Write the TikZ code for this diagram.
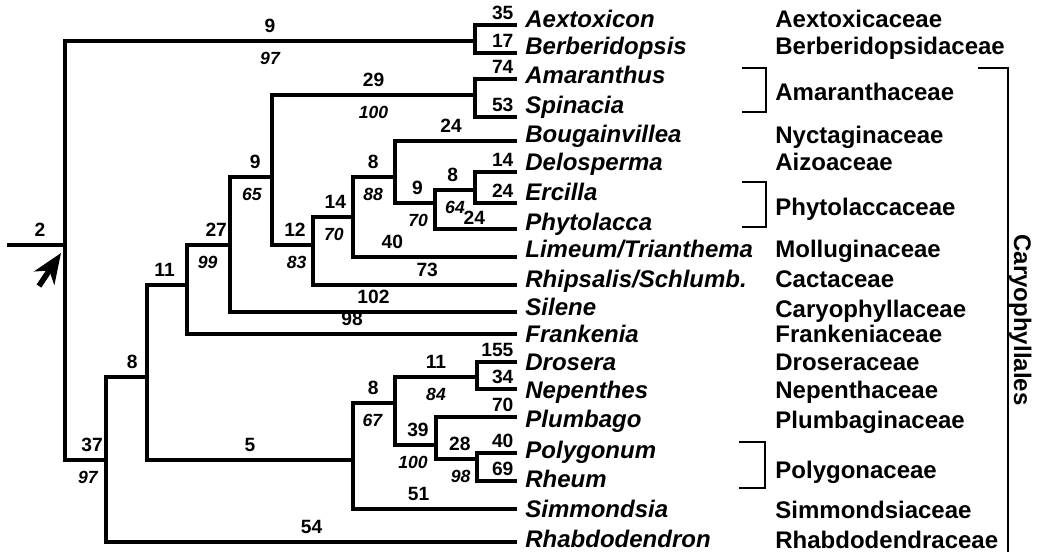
\documentclass[tikz,border=0pt]{standalone}
\usepackage{fontspec}
\setmainfont{Liberation Sans}
\usetikzlibrary{arrows.meta}
\tikzset{
  branch/.style={line width=1.6pt},
  groupline/.style={line width=1.2pt},
  pointer/.style={-{Stealth[length=15pt, width=12pt, inset=4.5pt]}, line width=2.8pt},
  leafname/.style={anchor=base west, inner sep=0pt, font=\fontsize{12}{14}\selectfont\bfseries\itshape},
  famname/.style={anchor=base west, inner sep=0pt, font=\fontsize{12}{14}\selectfont\bfseries},
  blen/.style={above, inner sep=1pt, yshift=2.3pt, font=\fontsize{9.6}{11}\selectfont\bfseries},
  bsup/.style={below, inner sep=1pt, yshift=-3.6pt, font=\fontsize{8.8}{10}\selectfont\bfseries\itshape},
  tiplen/.style={anchor=south east, inner sep=1pt, yshift=1pt, font=\fontsize{9.6}{11}\selectfont\bfseries}
}
\begin{document}
\begin{tikzpicture}[x=0.5pt, y=-0.5pt]
  \useasboundingbox (0,0) rectangle (1043,553);
  % inner vertices of the tree
  \coordinate (rootend) at (7,245);
  \coordinate (root) at (65,245);
  \coordinate (nAB) at (475,41);
  \coordinate (nCar) at (106,460);
  \coordinate (n147) at (147,377);
  \coordinate (n187) at (187,285);
  \coordinate (n230) at (230,245);
  \coordinate (n272) at (272,177);
  \coordinate (nAS) at (475,95);
  \coordinate (n313) at (313,245);
  \coordinate (n353) at (353,217);
  \coordinate (n395) at (395,177);
  \coordinate (n435) at (435,203);
  \coordinate (nDE) at (475,190);
  \coordinate (n353b) at (353,460);
  \coordinate (n395b) at (395,403);
  \coordinate (nDN) at (477,377);
  \coordinate (n436) at (436,445);
  \coordinate (nPR) at (477,459);
  % tips
  \coordinate (tAex) at (517,25);
  \coordinate (tBer) at (517,53);
  \coordinate (tAma) at (517,79);
  \coordinate (tSpi) at (517,117);
  \coordinate (tBou) at (517,141);
  \coordinate (tDel) at (517,172);
  \coordinate (tErc) at (517,203);
  \coordinate (tPhy) at (517,229);
  \coordinate (tLim) at (517,257);
  \coordinate (tRhi) at (517,285);
  \coordinate (tSil) at (517,312);
  \coordinate (tFra) at (517,334);
  \coordinate (tDro) at (517,362);
  \coordinate (tNep) at (517,389);
  \coordinate (tPlu) at (517,417);
  \coordinate (tPol) at (517,453);
  \coordinate (tRhe) at (517,481);
  \coordinate (tSim) at (517,509);
  \coordinate (tRhab) at (517,542);

  % taxa
  \node[leafname] (Aex) at (525,27) {Aextoxicon};
  \node[leafname] (Ber) at (525,54) {Berberidopsis};
  \node[leafname] (Ama) at (525,83) {Amaranthus};
  \node[leafname] (Spi) at (525,113) {Spinacia};
  \node[leafname] (Bou) at (525,142) {Bougainvillea};
  \node[leafname] (Del) at (525,170) {Delosperma};
  \node[leafname] (Erc) at (525,200) {Ercilla};
  \node[leafname] (Phy) at (525,230) {Phytolacca};
  \node[leafname] (Lim) at (525,257) {Limeum/Trianthema};
  \node[leafname] (Rhi) at (525,287) {Rhipsalis/Schlumb.};
  \node[leafname] (Sil) at (525,315) {Silene};
  \node[leafname] (Fra) at (525,342) {Frankenia};
  \node[leafname] (Dro) at (525,370) {Drosera};
  \node[leafname] (Nep) at (525,398) {Nepenthes};
  \node[leafname] (Plu) at (525,427) {Plumbago};
  \node[leafname] (Pol) at (525,458) {Polygonum};
  \node[leafname] (Rhe) at (525,487) {Rheum};
  \node[leafname] (Sim) at (525,517) {Simmondsia};
  \node[leafname] (Rhab) at (525,547) {Rhabdodendron};

  % families
  \node[famname] (fAex) at (775,27) {Aextoxicaceae};
  \node[famname] (fBer) at (775,54) {Berberidopsidaceae};
  \node[famname] (fAma) at (775,100) {Amaranthaceae};
  \node[famname] (fNyc) at (775,143) {Nyctaginaceae};
  \node[famname] (fAiz) at (775,170) {Aizoaceae};
  \node[famname] (fPhy) at (775,215) {Phytolaccaceae};
  \node[famname] (fMol) at (775,257) {Molluginaceae};
  \node[famname] (fCac) at (775,287) {Cactaceae};
  \node[famname] (fCar) at (775,317) {Caryophyllaceae};
  \node[famname] (fFra) at (775,342) {Frankeniaceae};
  \node[famname] (fDro) at (775,370) {Droseraceae};
  \node[famname] (fNep) at (775,398) {Nepenthaceae};
  \node[famname] (fPlu) at (775,428) {Plumbaginaceae};
  \node[famname] (fPol) at (775,478) {Polygonaceae};
  \node[famname] (fSim) at (775,518) {Simmondsiaceae};
  \node[famname] (fRhab) at (775,548) {Rhabdodendraceae};
  \node[famname, rotate=-90, anchor=base] (order) at (1014,320) {Caryophyllales};

  % branches
  \draw[branch] (rootend) -- node[blen, pos=0.57] (len2) {2} (root);
  \draw[branch] (root) |- node[blen, pos=0.75] (len9a) {9} node[bsup, pos=0.75] (bs97a) {97} (nAB);
  \draw[branch] (nAB) |- node[tiplen, pos=1] (len35) {35} (tAex);
  \draw[branch] (nAB) |- node[tiplen, pos=1] (len17) {17} (tBer);
  \draw[branch] (root) |- node[blen, pos=0.83] (len37) {37} node[bsup, pos=0.78] (bs97b) {97} (nCar);
  \draw[branch] (nCar) |- node[blen, pos=0.82] (len8a) {8} (n147);
  \draw[branch] (nCar) |- node[blen, pos=0.75] (len54) {54} (tRhab);
  \draw[branch] (n147) |- node[blen, pos=0.72] (len11a) {11} (n187);
  \draw[branch] (n147) |- node[blen, pos=0.75] (len5) {5} (n353b);
  \draw[branch] (n187) |- node[blen, pos=0.84] (len27) {27} node[bsup, pos=0.74] (bs99) {99} (n230);
  \draw[branch] (n187) |- node[blen, pos=0.75] (len98) {98} (tFra);
  \draw[branch] (n230) |- node[blen, pos=0.8] (len9b) {9} node[bsup, pos=0.76] (bs65) {65} (n272);
  \draw[branch] (n230) |- node[blen, pos=0.75] (len102) {102} (tSil);
  \draw[branch] (n272) |- node[blen, pos=0.75] (len29) {29} node[bsup, pos=0.75] (bs100a) {100} (nAS);
  \draw[branch] (nAS) |- node[tiplen, pos=1] (len74) {74} (tAma);
  \draw[branch] (nAS) |- node[tiplen, pos=1] (len53) {53} (tSpi);
  \draw[branch] (n272) |- node[blen, pos=0.78] (len12) {12} node[bsup, pos=0.8] (bs83) {83} (n313);
  \draw[branch] (n313) |- node[blen, pos=0.78] (len14a) {14} node[bsup, pos=0.76] (bs70a) {70} (n353);
  \draw[branch] (n313) |- node[blen, pos=0.78] (len73) {73} (tRhi);
  \draw[branch] (n353) |- node[blen, pos=0.74] (len8b) {8} node[bsup, pos=0.74] (bs88) {88} (n395);
  \draw[branch] (n353) |- node[blen, pos=0.62] (len40a) {40} (tLim);
  \draw[branch] (n395) |- node[blen, pos=0.73] (len24a) {24} (tBou);
  \draw[branch] (n395) |- node[blen, pos=0.78] (len9c) {9} node[bsup, pos=0.79] (bs70b) {70} (n435);
  \draw[branch] (n435) |- node[blen, pos=0.72] (len8c) {8} node[bsup, pos=0.75] (bs64) {64} (nDE);
  \draw[branch] (n435) |- node[blen, pos=0.74, yshift=-1.8pt] (len24b) {24} (tPhy);
  \draw[branch] (nDE) |- node[tiplen, pos=1] (len14b) {14} (tDel);
  \draw[branch] (nDE) |- node[tiplen, pos=1] (len24c) {24} (tErc);
  \draw[branch] (n353b) |- node[blen, pos=0.74] (len8d) {8} node[bsup, pos=0.73] (bs67) {67} (n395b);
  \draw[branch] (n353b) |- node[blen, pos=0.7] (len51) {51} (tSim);
  \draw[branch] (n395b) |- node[blen, pos=0.75] (len11b) {11} node[bsup, pos=0.75] (bs84) {84} (nDN);
  \draw[branch] (n395b) |- node[blen, pos=0.78] (len39) {39} node[bsup, pos=0.72] (bs100b) {100} (n436);
  \draw[branch] (nDN) |- node[tiplen, pos=1] (len155) {155} (tDro);
  \draw[branch] (nDN) |- node[tiplen, pos=1] (len34) {34} (tNep);
  \draw[branch] (n436) |- node[tiplen, pos=1] (len70) {70} (tPlu);
  \draw[branch] (n436) |- node[blen, pos=0.79] (len28) {28} node[bsup, pos=0.8] (bs98) {98} (nPR);
  \draw[branch] (nPR) |- node[tiplen, pos=1] (len40b) {40} (tPol);
  \draw[branch] (nPR) |- node[tiplen, pos=1] (len69) {69} (tRhe);

  % root marker
  \coordinate (ptail) at (39,286);
  \coordinate (ptip) at (61,253);
  \draw[pointer] (ptail) -- (ptip);

  % family brackets
  \coordinate (amTop) at (742,68);
  \coordinate (amBot) at (742,112);
  \draw[groupline] (amTop) -- ++(24,0) |- (amBot);
  \coordinate (phTop) at (742,182);
  \coordinate (phBot) at (742,227);
  \draw[groupline] (phTop) -- ++(24,0) |- (phBot);
  \coordinate (poTop) at (739,442);
  \coordinate (poBot) at (739,488);
  \draw[groupline] (poTop) -- ++(26,0) |- (poBot);
  \coordinate (carTop) at (978,68);
  \coordinate (carBot) at (1008,552);
  \draw[groupline] (carTop) -| (carBot);
\end{tikzpicture}
\end{document}
